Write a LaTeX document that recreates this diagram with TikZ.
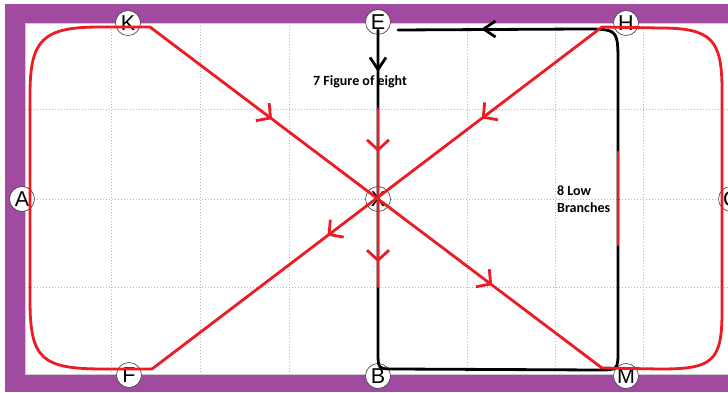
\documentclass[tikz,border=0pt]{standalone}
\usepackage{fontspec}
\setmainfont{Liberation Sans}
\newfontfamily\lblfont{Carlito}
\usetikzlibrary{arrows.meta,decorations.markings}
\definecolor{arenapurple}{HTML}{A04BA0}
\definecolor{trackred}{HTML}{ED1C24}
\definecolor{gridgray}{HTML}{B4B4B4}
\tikzset{
  RB/.tip={Straight Barb[length=10pt,width=22pt]},
  BB/.tip={Straight Barb[length=12pt,width=16pt]},
  redline/.style={trackred,line width=2.8pt,line cap=round,line join=round},
  blackline/.style={black,line width=2.8pt,line cap=round,line join=round},
  gridline/.style={draw=gridgray,line width=0.8pt,dash pattern=on 1pt off 2pt},
  marker/.style={circle,draw=black!75,line width=0.6pt,fill=white,minimum size=25pt,inner sep=0pt,font=\fontsize{21.5}{21.5}\selectfont},
  caption/.style={font=\lblfont\bfseries\fontsize{14}{17}\selectfont,inner sep=0pt,align=left},
}
\begin{document}
\begin{tikzpicture}[x=1pt,y=-1pt]
\useasboundingbox (0,0) rectangle (728,393);
\clip (0,0) rectangle (728,393);
% background
\fill[white] (0,0) rectangle (728,393);
\fill[arenapurple] (5,4) rectangle (740,392);
\filldraw[fill=white,draw=gray!40,line width=0.5pt] (25,23) rectangle (740,374);
% grid
\foreach \gx in {111,200,289,378,467,555,643}
  \draw[gridline] (\gx,23) -- (\gx,374);
\foreach \gy in {109,199,287}
  \draw[gridline] (25,\gy) -- (728,\gy);
% markers
\node[marker] (K) at (128,23) {K};
\node[marker] (E) at (378,22) {E};
\node[marker] (H) at (626,23) {H};
\node[marker] (A) at (22,199) {A};
\node[marker] (X) at (378,199) {X};
\node[marker] (C) at (731,199) {C};
\node[marker] (F) at (129,375) {F};
\node[marker] (B) at (378,376) {B};
\node[marker] (M) at (626,376) {M};
% captions
\node[caption,anchor=base west] (fig8) at (313,85.5) {7 Figure of eight};
\node[caption,anchor=north west] (lowb) at (557,186) {8 Low\\Branches};
% track coordinates
\coordinate (K1) at (150,27);
\coordinate (M1) at (602,368);
\coordinate (H1) at (602,27);
\coordinate (F1) at (152,369);
\coordinate (Etop) at (378,30);
\coordinate (Eend) at (398,30);
\coordinate (Xtop) at (378,109);
\coordinate (Xbot) at (378,287);
\coordinate (Rtop) at (618,152);
\coordinate (Rbot) at (618,245);
% black loop (figure 7 / 8)
\draw[blackline] (Etop) -- (378,352) .. controls (378,369) .. (395,369)
  -- (598,370) .. controls (618,370) .. (618,350)
  -- (618,64) .. controls (618,29) .. (583,29) -- (Eend);
\draw[blackline,-{BB}] (378,58) -- (378,72);
\draw[blackline,-{BB}] (500,29) -- (481,29);
% red outer loops
\draw[redline] (M1) -- (660,369) .. controls (712,369) and (722,362) .. (722,312)
  -- (722,90) .. controls (722,40) and (712,28) .. (660,28) -- (H1);
\draw[redline] (F1) -- (105,369) .. controls (42,369) and (30,360) .. (30,300)
  -- (30,95) .. controls (30,40) and (42,27) .. (100,27) -- (K1);
% red diagonals and centre line
\draw[redline,postaction={decorate},decoration={markings,
  mark=at position 0.27 with {\arrow{RB}},
  mark=at position 0.757 with {\arrow{RB}}}] (K1) -- (M1);
\draw[redline,postaction={decorate},decoration={markings,
  mark=at position 0.267 with {\arrow{RB}},
  mark=at position 0.61 with {\arrow{RB}}}] (H1) -- (F1);
\draw[redline,postaction={decorate},decoration={markings,
  mark=at position 0.24 with {\arrow{RB}},
  mark=at position 0.86 with {\arrow{RB}}}] (Xtop) -- (Xbot);
\draw[redline] (Rtop) -- (Rbot);
\end{tikzpicture}
\end{document}
